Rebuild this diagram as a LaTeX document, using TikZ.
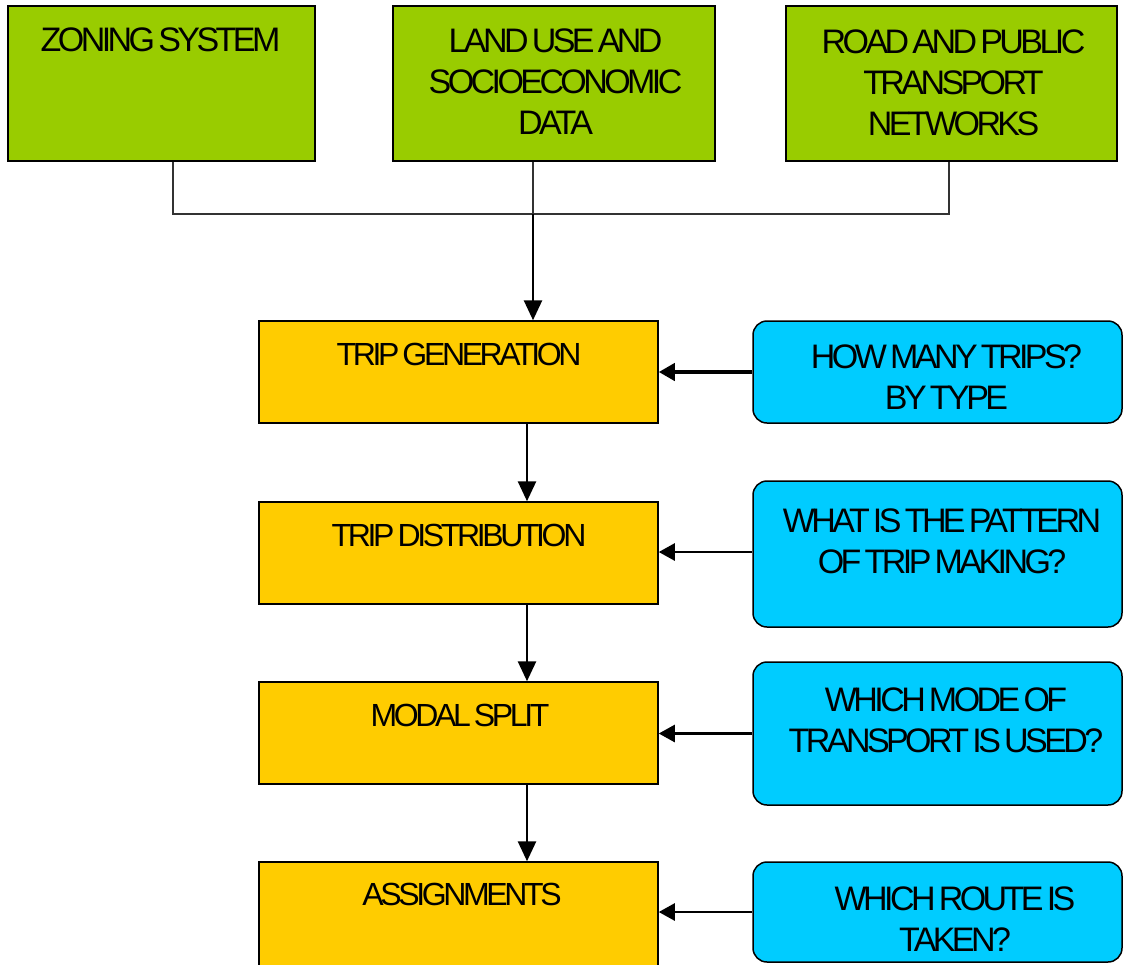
\documentclass[tikz,border=0pt]{standalone}
\usepackage{fontspec}
\setmainfont{Liberation Sans}[LetterSpace=-10.5, WordSpace=0.55]
\usetikzlibrary{arrows.meta}
\definecolor{gfill}{HTML}{99CC00}
\definecolor{ofill}{HTML}{FFCC00}
\definecolor{bfill}{HTML}{00CCFF}
\definecolor{thinline}{HTML}{333333}
\tikzset{
  gbox/.style={draw=black, line width=1.5pt, fill=gfill, inner sep=0pt},
  obox/.style={draw=black, line width=1.5pt, fill=ofill, inner sep=0pt},
  bbox/.style={draw=black, line width=1.5pt, fill=bfill, inner sep=0pt, rounded corners=14pt},
  bigtxt/.style={inner sep=0pt, align=center, font=\fontsize{34}{41}\selectfont},
  midtxt/.style={inner sep=0pt, align=center, font=\fontsize{32}{40}\selectfont},
  thin/.style={draw=thinline, line width=1.3pt},
  varr/.style={draw=black, line width=2.7pt, -{Triangle[length=20pt,width=18pt]}},
  harr/.style={draw=black, line width=2.5pt, -{Triangle[length=16pt,width=17pt]}},
}
\begin{document}
\begin{tikzpicture}[x=1pt,y=-1pt]
\useasboundingbox (0,0) rectangle (1123,964);
\fill[white] (0,0) rectangle (1123,964);

% green input boxes
\node[gbox, minimum width=307pt, minimum height=155pt] (g1) at (161.5,83.5) {};
\node[gbox, minimum width=322pt, minimum height=155pt] (g2) at (554,83.5) {};
\node[gbox, minimum width=331pt, minimum height=155pt] (g3) at (951.5,83.5) {};
\node[bigtxt] (tg1) at (160.5,39.5) {ZONING SYSTEM};
\node[bigtxt] (tg2) at (555.5,82) {LAND USE AND\\SOCIOECONOMIC\\DATA};
\node[bigtxt] (tg3) at (953.5,82.5) {ROAD AND PUBLIC\\TRANSPORT\\NETWORKS};

% orange process boxes
\node[obox, minimum width=399pt, minimum height=102pt] (o1) at (458.5,372) {};
\node[obox, minimum width=399pt, minimum height=102pt] (o2) at (458.5,553) {};
\node[obox, minimum width=399pt, minimum height=102pt] (o3) at (458.5,733) {};
\node[obox, minimum width=399pt, minimum height=112pt] (o4) at (458.5,918) {};
\node[midtxt] (to1) at (459,354.5) {TRIP GENERATION};
\node[midtxt] (to2) at (459,535) {TRIP DISTRIBUTION};
\node[midtxt] (to3) at (460,715) {MODAL SPLIT};
\node[midtxt] (to4) at (462,894) {ASSIGNMENTS};

% blue question boxes
\node[bbox, minimum width=369pt, minimum height=102pt] (b1) at (937.5,372) {};
\node[bbox, minimum width=369pt, minimum height=146pt] (b2) at (937.5,554) {};
\node[bbox, minimum width=369pt, minimum height=143pt] (b3) at (937.5,733.5) {};
\node[bbox, minimum width=369pt, minimum height=100pt] (b4) at (937.5,912) {};
\node[bigtxt] (tb1) at (946.5,377.5) {HOW MANY TRIPS?\\BY TYPE};
\node[bigtxt] (tb2) at (942,541) {WHAT IS THE PATTERN\\OF TRIP MAKING?};
\node[bigtxt] (tb3) at (946,720.5) {WHICH MODE OF\\TRANSPORT IS USED?};
\node[bigtxt] (tb4) at (955,919) {WHICH ROUTE IS\\TAKEN?};

% top collector
\coordinate (j) at (533,214);
\draw[thin] ([xshift=11.5pt]g1.south) |- (j);
\draw[thin] ([xshift=-2.5pt]g3.south) |- (j);
\draw[thin] ([xshift=-21pt]g2.south) -- (j);
\draw[varr] (j) -- (j |- o1.north);

% vertical flow
\draw[varr] ([xshift=68.5pt]o1.south) -- ([xshift=68.5pt]o2.north);
\draw[varr] ([xshift=68.5pt]o2.south) -- ([xshift=68.5pt]o3.north);
\draw[varr] ([xshift=68.5pt]o3.south) -- ([xshift=68.5pt]o4.north);

% questions to steps
\draw[harr, line width=4pt] (b1.west) -- (b1.west -| o1.east);
\draw[harr] ([yshift=2pt]b2.west) -- ([yshift=2pt]b2.west -| o2.east);
\draw[harr] (b3.west) -- (b3.west -| o3.east);
\draw[harr] (b4.west) -- (b4.west -| o4.east);
\end{tikzpicture}
\end{document}
